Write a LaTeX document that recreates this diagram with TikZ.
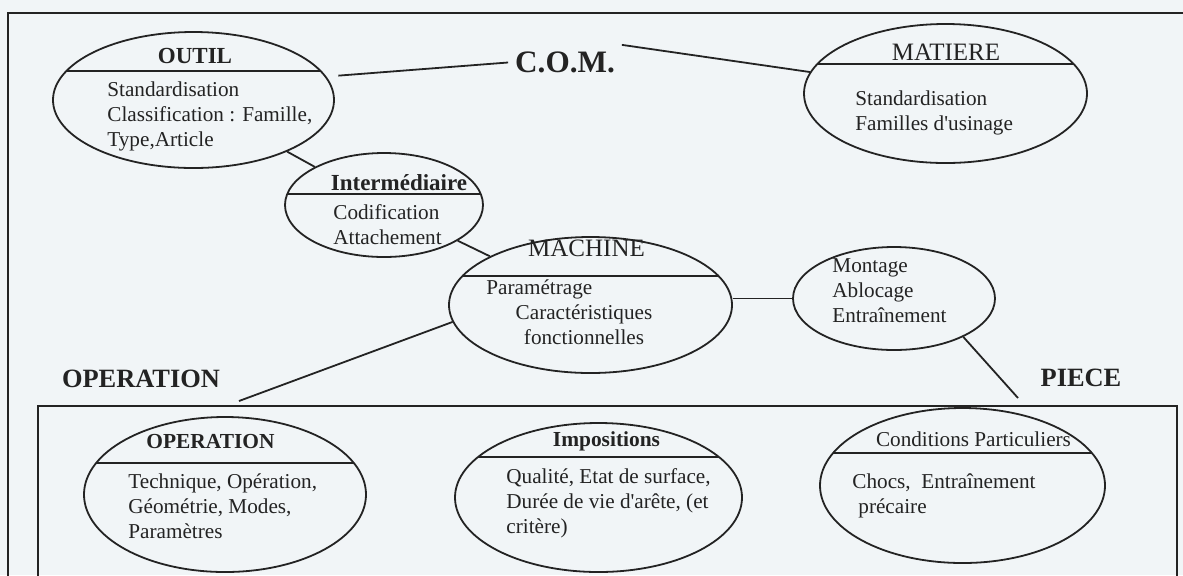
\documentclass[tikz,border=0pt]{standalone}
\usepackage{fontspec}
\setmainfont{Liberation Serif}
\usetikzlibrary{shapes.geometric}
\definecolor{paper}{RGB}{241,245,247}
\definecolor{ink}{RGB}{35,35,35}
\tikzset{
    cell/.style={ellipse, draw=ink, line width=0.9pt, inner sep=0pt},
    divider/.style={path picture={\draw[ink, line width=0.9pt]
        ([yshift=-#1]path picture bounding box.north west) --
        ([yshift=-#1]path picture bounding box.north east);}},
    ttl/.style={font=\fontsize{11.5}{14}\selectfont\bfseries, text=ink,
                inner sep=0pt, anchor=mid},
    ttlsm/.style={ttl, font=\fontsize{10.7}{13}\selectfont\bfseries},
    ttlrm/.style={ttl, font=\fontsize{12.5}{15}\selectfont},
    body/.style={font=\fontsize{10.6}{12.5}\selectfont, text=ink, align=left,
                 inner sep=0pt, anchor=base west},
    biglbl/.style={font=\fontsize{13.2}{16}\selectfont\bfseries, text=ink, anchor=mid},
    link/.style={draw=ink, line width=0.9pt},
    frame/.style={draw=ink, line width=0.8pt},
}
\begin{document}
\begin{tikzpicture}[x=0.5pt, y=-0.5pt]
    \useasboundingbox (0,0) rectangle (1183,575);
    \clip (0,0) rectangle (1183,575);
    \fill[paper] (0,0) rectangle (1183,575);
    \draw[frame] (8,13) rectangle (1200,600);
    \draw[frame] (38,406) rectangle (1177,600);

    \node[cell, divider=19.5pt, minimum width=140.5pt, minimum height=68pt] (outil) at (193.5,100) {};
    \node[cell, divider=20pt, minimum width=141.5pt, minimum height=69.5pt] (matiere) at (945.5,93.5) {};
    \node[cell, divider=20.5pt, minimum width=99pt, minimum height=52pt] (inter) at (384,205) {};
    \node[cell, divider=19.5pt, minimum width=141.5pt, minimum height=68pt] (machine) at (590.5,305) {};
    \node[cell, minimum width=101pt, minimum height=51.5pt] (montage) at (894,298.5) {};
    \node[cell, divider=23pt, minimum width=141pt, minimum height=77.5pt] (operation) at (225,494.5) {};
    \node[cell, divider=17pt, minimum width=143.5pt, minimum height=74.5pt] (impos) at (598.5,497.5) {};
    \node[cell, divider=22.5pt, minimum width=142.5pt, minimum height=77.5pt] (cond) at (962.5,485.5) {};

    \node[ttl] (outil-t) at (195,59) {OUTIL};
    \node[ttlrm] (matiere-t) at (946,56) {MATIERE};
    \node[ttl] (inter-t) at (399,186) {Intermédiaire};
    \node[ttlrm] (machine-t) at (586.5,252) {MACHINE};
    \node[ttlsm] (operation-t) at (210.5,444) {OPERATION};
    \node[ttlsm] (impos-t) at (606.5,442) {Impositions};
    \node[body, anchor=mid] (cond-t) at (973.5,442) {Conditions Particuliers};

    \node[body] (outil-b) at (107,146)
        {Standardisation\\Classification : Famille,\\Type,Article};
    \node[body] (matiere-b) at (855,130)
        {Standardisation\\Familles d\textquotesingle usinage};
    \node[body] (inter-b) at (333,244) {Codification\\Attachement};
    \node[body] (machine-b) at (486,294) {Paramétrage};
    \node[body, align=center, anchor=base] (machine-c) at (584,344)
        {Caractéristiques\\fonctionnelles};
    \node[body] (montage-b) at (832,322) {Montage\\Ablocage\\Entraînement};
    \node[body] (operation-b) at (128,538)
        {Technique, Opération,\\Géométrie, Modes,\\Paramètres};
    \node[body] (impos-b) at (506,533)
        {Qualité, Etat de surface,\\Durée de vie d\textquotesingle arête, (et\\critère)};
    \node[body] (cond-b) at (852,513)
        {Chocs,~ Entraînement\\\hspace*{3pt}précaire};

    \node[biglbl, font=\fontsize{15.6}{18}\selectfont\bfseries] (com) at (565,68) {C.O.M.};
    \node[biglbl] (oplbl) at (141,383) {OPERATION};
    \node[biglbl] (piecelbl) at (1081,382) {PIECE};
    \coordinate (opjoin) at (239,401);
    \coordinate (piecejoin) at (1018,398);

    \draw[link, shorten <=6pt] (outil.10) -- (com.west);
    \draw[link] (com.north east) -- (matiere.171);
    \draw[link] (outil) -- (inter);
    \draw[link] (inter) -- (machine);
    \draw[link] (montage.west) -- (montage.west -| machine.east);
    \draw[link] (machine.187) -- (opjoin);
    \draw[link] (montage.331) -- (piecejoin);
\end{tikzpicture}
\end{document}
